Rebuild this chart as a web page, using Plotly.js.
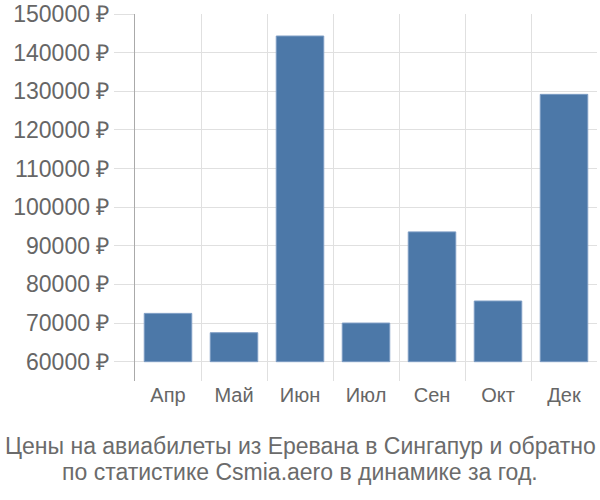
<!DOCTYPE html>
<html>
<head>
<meta charset="utf-8">
<script src="https://cdn.plot.ly/plotly-3.0.1.min.js"></script>
<style>body{margin:0;padding:0;}#chart{width:600px;height:500px;}</style>
</head>
<body>
<div id="chart"></div>
<script>
var months = ["Апр", "Май", "Июн", "Июл", "Сен", "Окт", "Дек"];
var prices = [72500, 67500, 144300, 70000, 93600, 75700, 129200];
var yTicks = [60000, 70000, 80000, 90000, 100000, 110000, 120000, 130000, 140000, 150000];
var yTickText = yTicks.map(function (v) { return v + " ₽"; });
var baseValue = 60000;
var titleLines = ["Цены на авиабилеты из Еревана в Сингапур и обратно", "по статистике Csmia.aero в динамике за год."];

var trace = {
  type: "bar",
  x: months,
  y: prices.map(function (p) { return p - baseValue; }),
  base: baseValue,
  marker: { color: "#4c78a8", line: { color: "#7d9cc4", width: 1 } },
  hoverinfo: "skip"
};

var plotTop = 14, plotBottom = 381, plotH = plotBottom - plotTop;
function paperY(py) { return (plotBottom - py) / plotH; }
var centerX = 0.5 - 135 / 462 / 2 + 3 / 462 / 2;

var layout = {
  width: 600,
  height: 500,
  margin: { l: 135, r: 3, t: plotTop, b: 500 - plotBottom },
  paper_bgcolor: "#ffffff",
  plot_bgcolor: "#ffffff",
  font: { family: "Liberation Sans, Arial, sans-serif", color: "#666666" },
  bargap: 0.28,
  showlegend: false,
  annotations: [
    { text: titleLines[0], xref: "paper", yref: "paper", x: centerX, y: paperY(446),
      xanchor: "center", yanchor: "middle", showarrow: false, font: { size: 23, color: "#6b6b6b" } },
    { text: titleLines[1], xref: "paper", yref: "paper", x: centerX, y: paperY(472),
      xanchor: "center", yanchor: "middle", showarrow: false, font: { size: 23, color: "#6b6b6b" } }
  ],
  xaxis: {
    type: "category",
    tickson: "boundaries",
    showgrid: true,
    gridcolor: "#e0e0e0",
    gridwidth: 1,
    ticks: "",
    showline: false,
    zeroline: false,
    tickfont: { size: 20, color: "#666666" },
    fixedrange: true
  },
  yaxis: {
    range: [55000, 150000],
    tickvals: yTicks,
    ticktext: yTickText,
    showgrid: true,
    gridcolor: "#e0e0e0",
    gridwidth: 1,
    ticks: "outside",
    ticklen: 20,
    tickcolor: "#e0e0e0",
    showline: true,
    linecolor: "#aaaaaa",
    linewidth: 1,
    zeroline: false,
    tickfont: { size: 23, color: "#666666" },
    fixedrange: true
  }
};

Plotly.newPlot("chart", [trace], layout, { displayModeBar: false, staticPlot: true });
</script>
</body>
</html>
